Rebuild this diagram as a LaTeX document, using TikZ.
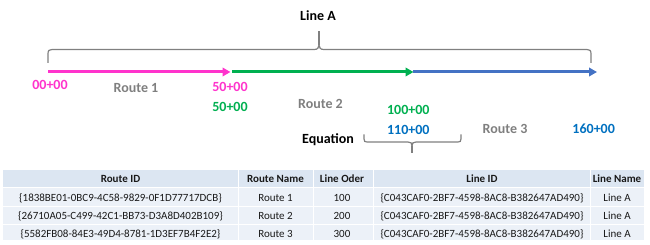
\documentclass[tikz,border=0pt]{standalone}
\usepackage{fontspec}
\setmainfont{Carlito}
\usetikzlibrary{arrows.meta}
\definecolor{pinkc}{RGB}{255,51,204}
\definecolor{greenc}{RGB}{0,176,80}
\definecolor{bluea}{RGB}{68,114,196}
\definecolor{bluet}{RGB}{0,112,192}
\definecolor{greyt}{RGB}{127,127,127}
\definecolor{bracec}{RGB}{128,128,128}
\definecolor{hdrc}{RGB}{220,230,242}
\definecolor{rowc}{RGB}{236,241,248}
\definecolor{tabtext}{RGB}{25,25,25}
\begin{document}
\begin{tikzpicture}[x=1pt,y=-1pt,
  lbl/.style={font=\fontsize{14}{16}\selectfont\bfseries, inner sep=0pt, text height=9pt, text depth=0pt, anchor=center},
  ttl/.style={lbl, text=black},
  routelbl/.style={lbl, text=greyt},
  pinklbl/.style={lbl, text=pinkc},
  greenlbl/.style={lbl, text=greenc},
  bluelbl/.style={lbl, text=bluet},
  arr/.style={line width=3pt, -{Triangle[length=8pt,width=8.5pt]}},
  brace/.style={draw=bracec, line width=1.2pt},
  th/.style={font=\fontsize{11}{13}\selectfont\bfseries, text=tabtext, inner sep=0pt, text height=7pt, text depth=0pt, anchor=center},
  td/.style={font=\fontsize{11}{13}\selectfont, text=tabtext, inner sep=0pt, text height=7pt, text depth=0pt, anchor=center},
  sep/.style={draw=white, line width=1pt}
]
\useasboundingbox (0,0) rectangle (650,245);

% title
\node[ttl] (lineA) at (318,16.5) {Line A};

% top brace
\coordinate (tb) at (319,31);
\coordinate (tbm) at (319,45);
\draw[brace] (48,63) -- (48,54) .. controls (48,50.5) and (49,49.5) .. (52,49.5) -- (314,49.5)
  .. controls (317.5,49.5) and (319,48) .. (tbm) .. controls (319,48) and (320.5,49.5) .. (324,49.5)
  -- (587,49.5) .. controls (590,49.5) and (591,50.5) .. (591,54) -- (591,63);
\draw[brace] (tbm) -- (tb);

% route line
\coordinate (p0) at (48,72);
\coordinate (p1) at (230.5,72);
\coordinate (p1b) at (232,72);
\coordinate (p2) at (413.5,72);
\coordinate (p2b) at (413,72);
\coordinate (p3) at (597,72);
\draw[arr, pinkc] (p0) -- (p1);
\draw[arr, greenc] (p1b) -- (p2);
\draw[arr, bluea] (p2b) -- (p3);

% labels
\node[pinklbl] (s0) at (50,85) {00+00};
\node[routelbl] (r1) at (136,87.7) {Route 1};
\node[pinklbl] (s1a) at (230,86.7) {50+00};
\node[greenlbl] (s1b) at (230,106.7) {50+00};
\node[routelbl] (r2) at (320.5,103.8) {Route 2};
\node[greenlbl] (s2a) at (408.3,110) {100+00};
\node[bluelbl] (s2b) at (408.3,130.3) {110+00};
\node[routelbl] (r3) at (505,128.7) {Route 3};
\node[bluelbl] (s3) at (593.7,128.7) {160+00};
\node[ttl] (eq) at (328,139.5) {Equation};

% bottom brace
\coordinate (bbm) at (412,146);
\coordinate (bb) at (412,153);
\draw[brace] (364,134.5) -- (364,139) .. controls (364,141.5) and (365,142) .. (367,142) -- (408,142)
  .. controls (411,142) and (412,143) .. (bbm) .. controls (412,143) and (413,142) .. (416,142)
  -- (458,142) .. controls (460,142) and (461,141.5) .. (461,139) -- (461,134.5);
\draw[brace] (bbm) -- (bb);

% table
\fill[hdrc] (3,170) rectangle (644,187.5);
\fill[rowc] (3,187.5) rectangle (644,240.5);
\foreach \yy in {187.5,206.3,224.5} \draw[sep] (3,\yy) -- (644,\yy);
\foreach \xx in {238,313,373,590} \draw[sep] (\xx,170) -- (\xx,240.5);

\node[th] (h1) at (120.5,179) {Route ID};
\node[th] (h2) at (275.5,179) {Route Name};
\node[th] (h3) at (342,179) {Line Oder};
\node[th] (h4) at (482,179) {Line ID};
\node[th] (h5) at (617,179) {Line Name};

\node[td] (a1) at (120.5,198) {\{1838BE01-0BC9-4C58-9829-0F1D77717DCB\}};
\node[td] (a2) at (275.5,198) {Route 1};
\node[td] (a3) at (342,198) {100};
\node[td] (a4) at (482,198) {\{C043CAF0-2BF7-4598-8AC8-B382647AD490\}};
\node[td] (a5) at (617,198) {Line A};

\node[td] (b1) at (120.5,216.3) {\{26710A05-C499-42C1-BB73-D3A8D402B109\}};
\node[td] (b2) at (275.5,216.3) {Route 2};
\node[td] (b3) at (342,216.3) {200};
\node[td] (b4) at (482,216.3) {\{C043CAF0-2BF7-4598-8AC8-B382647AD490\}};
\node[td] (b5) at (617,216.3) {Line A};

\node[td] (c1) at (120.5,234) {\{5582FB08-84E3-49D4-8781-1D3EF7B4F2E2\}};
\node[td] (c2) at (275.5,234) {Route 3};
\node[td] (c3) at (342,234) {300};
\node[td] (c4) at (482,234) {\{C043CAF0-2BF7-4598-8AC8-B382647AD490\}};
\node[td] (c5) at (617,234) {Line A};
\end{tikzpicture}
\end{document}
